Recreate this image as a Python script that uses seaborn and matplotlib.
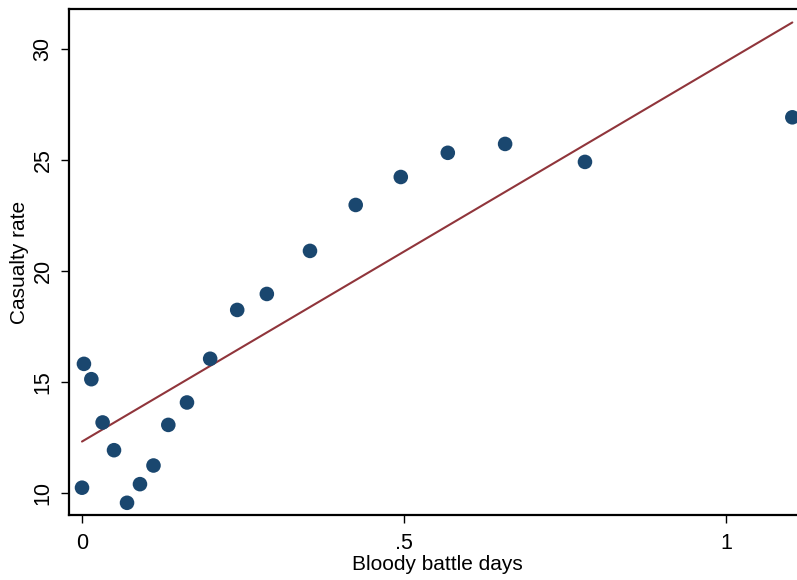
import numpy as np
import pandas as pd
import matplotlib
matplotlib.use("Agg")
import matplotlib.pyplot as plt
import seaborn as sns

bloody_days = [0.0, 0.003, 0.0145, 0.032, 0.0497, 0.0699, 0.090, 0.111, 0.134, 0.163,
               0.199, 0.241, 0.287, 0.354, 0.425, 0.495, 0.568, 0.657, 0.781, 1.103]
casualty_rate = [10.23, 15.81, 15.12, 13.17, 11.92, 9.55, 10.39, 11.23, 13.06, 14.07,
                 16.04, 18.24, 18.96, 20.90, 22.97, 24.23, 25.32, 25.72, 24.91, 26.92]
fit_intercept = 12.31
fit_slope = 17.12
x_ticks = [0, 0.5, 1]
x_ticklabels = ["0", ".5", "1"]
y_ticks = [10, 15, 20, 25, 30]

df = pd.DataFrame({"x": bloody_days, "y": casualty_rate})
fit_x = [min(bloody_days), max(bloody_days)]
fit_df = pd.DataFrame({"x": fit_x, "y": [fit_intercept + fit_slope * v for v in fit_x]})

sns.set_theme(style="white")
plt.rcParams["font.family"] = ["Liberation Sans", "DejaVu Sans"]

fig = plt.figure(figsize=(7.97, 5.8), dpi=100)
ax = fig.add_axes([69 / 797, 1 - 515 / 580, (806.5 - 69) / 797, (515 - 9) / 580])

sns.scatterplot(data=df, x="x", y="y", ax=ax, color="#1a476f", s=110,
                edgecolor="none", zorder=3)
sns.lineplot(data=fit_df, x="x", y="y", ax=ax, color="#90353b", linewidth=1.5, zorder=2)

ax.set_xlim(-0.0202, 1.125)
ax.set_ylim(9.0, 31.8)
ax.set_xticks(x_ticks)
ax.set_xticklabels(x_ticklabels)
ax.set_yticks(y_ticks)
ax.set_yticklabels([str(v) for v in y_ticks], rotation=90, va="center")
ax.tick_params(axis="both", which="both", length=6, width=1, color="black",
               labelsize=15.5, labelcolor="black", direction="out")
ax.tick_params(axis="x", pad=7)
ax.tick_params(axis="y", pad=5)
ax.tick_params(left=True, bottom=True)
for sp in ax.spines.values():
    sp.set_color("black")
    sp.set_linewidth(1.6)
ax.set_xlabel("Bloody battle days", fontsize=15, color="black", labelpad=1)
ax.set_ylabel("Casualty rate", fontsize=15, color="black", labelpad=3)
ax.grid(False)

fig.savefig("out.png", dpi=100)
